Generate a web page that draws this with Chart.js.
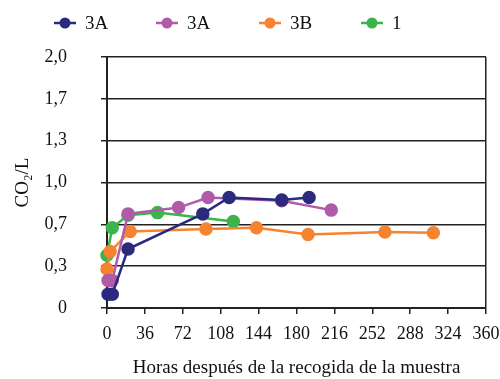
<!DOCTYPE html>
<html>
<head>
<meta charset="utf-8">
<script src="https://cdn.jsdelivr.net/npm/chart.js@4/dist/chart.umd.min.js"></script>
<style>
  html, body { margin: 0; padding: 0; background: #fff; }
  #wrap { width: 500px; height: 379px; }
</style>
</head>
<body>
<div id="wrap"><canvas id="c" width="500" height="379"></canvas></div>
<script>
// ---- data ----
const seriesNames = ["3A", "3A", "3B", "1"];
const navyX   = [1, 5, 20, 91, 116, 166, 192];
const navyY   = [0.11, 0.11, 0.47, 0.75, 0.88, 0.86, 0.88];
const purpleX = [1, 5, 20, 68, 96, 166, 213];
const purpleY = [0.22, 0.22, 0.75, 0.80, 0.88, 0.855, 0.78];
const orangeX = [0, 3, 22, 94, 142, 191, 264, 310];
const orangeY = [0.31, 0.45, 0.61, 0.63, 0.64, 0.585, 0.605, 0.60];
const greenX  = [0, 5, 20, 48, 120];
const greenY  = [0.42, 0.64, 0.74, 0.76, 0.69];
const xTickValues = [0, 36, 72, 108, 144, 180, 216, 252, 288, 324, 360];
const yTickValues = [0, 1/3, 2/3, 1, 4/3, 5/3, 2];
const yTickLabels = ["0", "0,3", "0,7", "1,0", "1,3", "1,7", "2,0"];
const xTitle = "Horas después de la recogida de la muestra";
const yTitle = "CO₂/L";

// ---- styles ----
const colors = ["#2B2A7C", "#B05BAA", "#F5832F", "#3BB44A"];
const FONT = "'Liberation Serif', 'Times New Roman', serif";

function pts(xs, ys) { return xs.map((x, i) => ({ x: x, y: ys[i] })); }
const seriesData = [pts(navyX, navyY), pts(purpleX, purpleY), pts(orangeX, orangeY), pts(greenX, greenY)];

const datasets = seriesData.map((d, i) => ({
  label: seriesNames[i],
  data: d,
  showLine: true,
  borderColor: colors[i],
  backgroundColor: colors[i],
  pointBackgroundColor: colors[i],
  pointBorderColor: colors[i],
  borderWidth: 2.5,
  pointRadius: 5.5,
  pointHoverRadius: 5.5,
  clip: false
}));

const legendPlugin = {
  id: 'lineLegend',
  afterDraw(chart) {
    const ctx = chart.ctx;
    const centers = [65, 167, 270, 372];
    const cy = 23;
    ctx.save();
    chart.data.datasets.forEach((ds, i) => {
      const cx = centers[i];
      ctx.strokeStyle = ds.borderColor;
      ctx.fillStyle = ds.borderColor;
      ctx.lineWidth = 2.5;
      ctx.beginPath();
      ctx.moveTo(cx - 11, cy);
      ctx.lineTo(cx + 11, cy);
      ctx.stroke();
      ctx.beginPath();
      ctx.arc(cx, cy, 5.5, 0, Math.PI * 2);
      ctx.fill();
      ctx.fillStyle = '#111';
      ctx.font = "19px " + FONT;
      ctx.textBaseline = 'middle';
      ctx.textAlign = 'left';
      ctx.fillText(ds.label, cx + 20, cy + 1);
    });
    ctx.restore();
  }
};

new Chart(document.getElementById('c'), {
  type: 'scatter',
  data: { datasets: datasets },
  plugins: [legendPlugin],
  options: {
    responsive: false,
    animation: false,
    devicePixelRatio: 1,
    layout: { padding: { top: 57, right: 14, left: 0, bottom: 0 } },
    plugins: { legend: { display: false }, tooltip: { enabled: false } },
    scales: {
      x: {
        type: 'linear',
        min: 0, max: 360,
        afterBuildTicks: (s) => { s.ticks = xTickValues.map(v => ({ value: v })); },
        afterFit: (s) => { s.height = 71; s.paddingLeft = 0; s.paddingRight = 0; },
        ticks: {
          color: '#111',
          font: { family: FONT, size: 18 },
          padding: 9,
          maxRotation: 0,
          autoSkip: false,
          callback: (v) => String(v)
        },
        grid: {
          drawOnChartArea: true,
          color: (c) => (c.tick && c.tick.value === 360) ? '#222' : 'rgba(0,0,0,0)',
          lineWidth: 1.5,
          tickColor: '#222',
          tickLength: 6
        },
        border: { display: true, color: '#222', width: 2 },
        title: {
          display: true,
          text: xTitle,
          color: '#111',
          font: { family: FONT, size: 19 },
          padding: { top: 6, bottom: 0 }
        }
      },
      y: {
        type: 'linear',
        min: 0, max: 2,
        afterBuildTicks: (s) => { s.ticks = yTickValues.map(v => ({ value: v })); },
        afterFit: (s) => { s.width = 107; s.paddingTop = 0; s.paddingBottom = 0; },
        ticks: {
          color: '#111',
          font: { family: FONT, size: 18 },
          padding: 34,
          autoSkip: false,
          callback: (v, i) => yTickLabels[i]
        },
        grid: {
          color: '#222',
          lineWidth: 1.5,
          tickColor: '#222',
          tickLength: 6
        },
        border: { display: true, color: '#222', width: 2 },
        title: {
          display: true,
          text: yTitle,
          color: '#111',
          font: { family: FONT, size: 19 },
          padding: { top: 12, bottom: 0 }
        }
      }
    }
  }
});
</script>
</body>
</html>
